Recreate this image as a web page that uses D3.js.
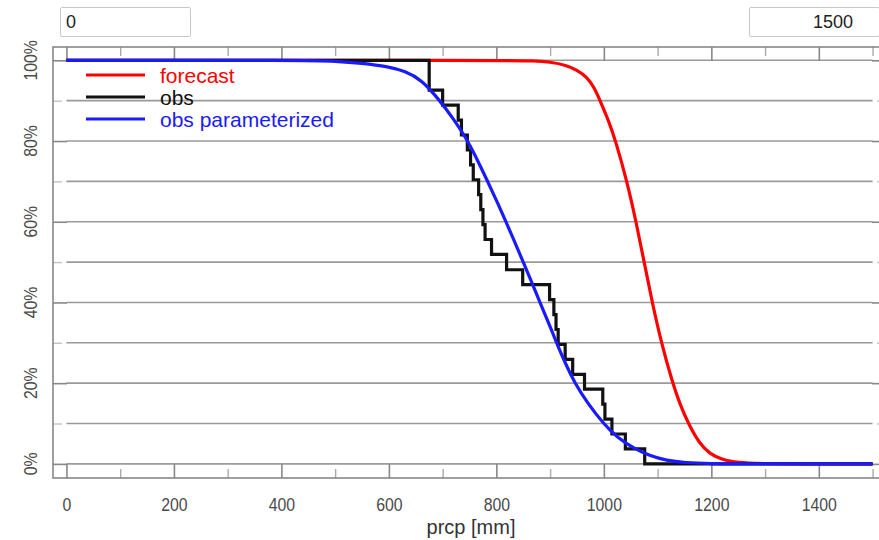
<!DOCTYPE html>
<html>
<head>
<meta charset="utf-8">
<script src="https://cdn.jsdelivr.net/npm/d3@7"></script>
<style>
    body { margin: 0; background: #fff; width: 879px; height: 540px; overflow: hidden; position: relative; font-family: "Liberation Sans", Arial, sans-serif; }
    svg { position: absolute; left: 0; top: 0; }
    .range-box { position: absolute; top: 7px; height: 30px; width: 131px; box-sizing: border-box; border: 1px solid #c8c8c8; border-radius: 2px; font-family: "Liberation Sans", Arial, sans-serif; font-size: 18px; color: #222; background: #fff; }
    #minBox { left: 60px; padding-left: 5px; text-align: left; }
    #maxBox { left: 749px; padding-right: 26px; text-align: right; }
</style>
</head>
<body>
<input class="range-box" id="minBox" type="text" value="0">
<input class="range-box" id="maxBox" type="text" value="1500">
<svg id="chart" width="879" height="540"></svg>
<script>
// forecast exceedance curve (prcp mm, percent)
var forecastX = [0, 820, 870, 900, 930, 950, 968, 982, 993, 1009, 1022, 1043, 1060, 1075, 1090, 1107, 1128, 1141, 1157, 1178, 1197, 1220, 1250, 1290, 1500]
var forecastY = [100, 100, 99.9, 99.6, 98.8, 97.6, 95.9, 93.3, 90, 85, 80, 70, 60, 50, 40, 30, 20, 15, 10, 5, 2.5, 1, 0.3, 0, 0]

// observed steps (position of each drop, level after drop)
var obsX = [0, 675, 700, 729, 735, 746, 752, 757, 767, 771, 775, 779, 791, 819, 849, 899, 907, 911, 915, 928, 942, 964, 998, 1002, 1015, 1040, 1076, 1500]
var obsY = [100, 92.6, 88.9, 85.2, 81.5, 77.8, 74.1, 70.4, 66.7, 63.0, 59.3, 55.6, 51.9, 48.1, 44.4, 40.7, 37.0, 33.3, 29.6, 25.9, 22.2, 18.5, 14.8, 11.1, 7.4, 3.7, 0, 0]

// parameterized fit of obs
var paramX = [0, 450, 500, 550, 600, 630, 660, 695, 720, 745, 764, 782, 800, 818, 834, 850, 866, 881, 897, 912, 928, 946, 970, 999, 1025, 1055, 1085, 1117, 1150, 1200, 1250, 1500]
var paramY = [100, 100, 99.8, 99.3, 98.4, 97.3, 95.3, 90, 85.5, 80.5, 75.5, 70.5, 65.3, 60, 55, 50, 45, 40, 35, 30, 25, 20, 15, 10, 6.5, 3.9, 2, 0.8, 0.3, 0.05, 0, 0]

var xTicks = [0, 200, 400, 600, 800, 1000, 1200, 1400]
var xMinorTicks = [100, 300, 500, 700, 900, 1100, 1300, 1500]
var yTicks = [0, 20, 40, 60, 80, 100]
var yMinorTicks = [10, 30, 50, 70, 90]
var yTickLabels = ["0%", "20%", "40%", "60%", "80%", "100%"]
var xTitle = "prcp [mm]"

var legendNames = ["forecast", "obs", "obs parameterized"]
var legendColors = ["#ff0000", "#111111", "#1a1aff"]

var frame = { left: 53, right: 886, top: 47, bottom: 478 }

var x = d3.scaleLinear().domain([-25, 1525]).range([frame.left, frame.right])
var y = d3.scaleLinear().domain([-3.5, 103.3]).range([frame.bottom, frame.top])

var svg = d3.select("#chart")

// horizontal grid every 10%
var gridVals = yTicks.concat(yMinorTicks)
svg.append("g").selectAll("line")
    .data(gridVals)
    .enter().append("line")
    .attr("x1", x(0))
    .attr("x2", x(1500))
    .attr("y1", function(d) { return y(d) })
    .attr("y2", function(d) { return y(d) })
    .style("stroke", "#9a9a9a")
    .style("stroke-width", 1.6)

function styleTicks(g, col, w) {
    g.select(".domain").remove()
    g.selectAll(".tick line").style("stroke", col).style("stroke-width", w)
}

// bottom axis, major with labels
var xAxis = d3.axisBottom(x).tickValues(xTicks).tickFormat(d3.format("d"))
    .tickSizeInner(-14).tickSizeOuter(0).tickPadding(20)
var gx = svg.append("g").attr("transform", "translate(0," + frame.bottom + ")").call(xAxis)
styleTicks(gx, "#888", 1.6)
gx.selectAll(".tick text")
    .style("font-family", "'Liberation Sans', Arial, sans-serif")
    .style("font-size", "18px")
    .style("fill", "#4a4a4a")
    .attr("transform", "scale(0.88,1)")

var gxm = svg.append("g").attr("transform", "translate(0," + frame.bottom + ")")
    .call(d3.axisBottom(x).tickValues(xMinorTicks).tickSizeInner(-9).tickSizeOuter(0).tickFormat(""))
styleTicks(gxm, "#aaa", 1.4)

// top axis
var gt = svg.append("g").attr("transform", "translate(0," + frame.top + ")")
    .call(d3.axisTop(x).tickValues(xTicks).tickSizeInner(-14).tickSizeOuter(0).tickFormat(""))
styleTicks(gt, "#888", 1.6)
var gtm = svg.append("g").attr("transform", "translate(0," + frame.top + ")")
    .call(d3.axisTop(x).tickValues(xMinorTicks).tickSizeInner(-9).tickSizeOuter(0).tickFormat(""))
styleTicks(gtm, "#aaa", 1.4)

// left / right axes
var gl = svg.append("g").attr("transform", "translate(" + frame.left + ",0)")
    .call(d3.axisLeft(y).tickValues(yTicks).tickSizeInner(-14).tickSizeOuter(0).tickFormat(""))
styleTicks(gl, "#888", 1.6)
var glm = svg.append("g").attr("transform", "translate(" + frame.left + ",0)")
    .call(d3.axisLeft(y).tickValues(yMinorTicks).tickSizeInner(-9).tickSizeOuter(0).tickFormat(""))
styleTicks(glm, "#c4c4c4", 1.4)
var gr = svg.append("g").attr("transform", "translate(" + frame.right + ",0)")
    .call(d3.axisRight(y).tickValues(yTicks).tickSizeInner(-14).tickSizeOuter(0).tickFormat(""))
styleTicks(gr, "#888", 1.6)
var grm = svg.append("g").attr("transform", "translate(" + frame.right + ",0)")
    .call(d3.axisRight(y).tickValues(yMinorTicks).tickSizeInner(-9).tickSizeOuter(0).tickFormat(""))
styleTicks(grm, "#c4c4c4", 1.4)

// rotated y labels
svg.append("g").selectAll("text")
    .data(yTicks)
    .enter().append("text")
    .attr("transform", function(d) { return "translate(31," + y(d) + ") rotate(-90) scale(0.88,1)" })
    .attr("text-anchor", "middle")
    .attr("dy", "0.35em")
    .style("font-family", "'Liberation Sans', Arial, sans-serif")
    .style("font-size", "18px")
    .style("fill", "#4a4a4a")
    .text(function(d, i) { return yTickLabels[i] })

// frame
svg.append("rect")
    .attr("x", frame.left)
    .attr("y", frame.top)
    .attr("width", frame.right - frame.left)
    .attr("height", frame.bottom - frame.top)
    .style("fill", "none")
    .style("stroke", "#888")
    .style("stroke-width", 1.6)

// x title
svg.append("text")
    .attr("x", 471)
    .attr("y", 534)
    .attr("text-anchor", "middle")
    .style("font-family", "'Liberation Sans', Arial, sans-serif")
    .style("font-size", "20px")
    .style("fill", "#333")
    .text(xTitle)

// curves
function pts(xs, ys) {
    return xs.map(function(v, i) { return [v, ys[i]] })
}

var smooth = d3.line().x(function(d) { return x(d[0]) }).y(function(d) { return y(d[1]) }).curve(d3.curveBasis)
var steps = d3.line().x(function(d) { return x(d[0]) }).y(function(d) { return y(d[1]) }).curve(d3.curveStepAfter)

svg.append("path")
    .attr("d", smooth(pts(forecastX, forecastY)))
    .style("fill", "none")
    .style("stroke", legendColors[0])
    .style("stroke-width", 3.2)

svg.append("path")
    .attr("d", steps(pts(obsX, obsY)))
    .style("fill", "none")
    .style("stroke", legendColors[1])
    .style("stroke-width", 3.2)
    .style("stroke-linejoin", "miter")

svg.append("path")
    .attr("d", smooth(pts(paramX, paramY)))
    .style("fill", "none")
    .style("stroke", legendColors[2])
    .style("stroke-width", 3.2)

// legend
var legend = svg.append("g").selectAll("g")
    .data(legendNames)
    .enter().append("g")
    .attr("transform", function(d, i) { return "translate(86," + (75 + i * 22) + ")" })

legend.append("line")
    .attr("x1", 0)
    .attr("x2", 59)
    .style("stroke", function(d, i) { return legendColors[i] })
    .style("stroke-width", 3.2)

legend.append("text")
    .attr("x", 74)
    .attr("dy", "0.36em")
    .style("font-family", "'Liberation Sans', Arial, sans-serif")
    .style("font-size", "21px")
    .style("fill", function(d, i) { return legendColors[i] })
    .text(function(d) { return d })
</script>
</body>
</html>
